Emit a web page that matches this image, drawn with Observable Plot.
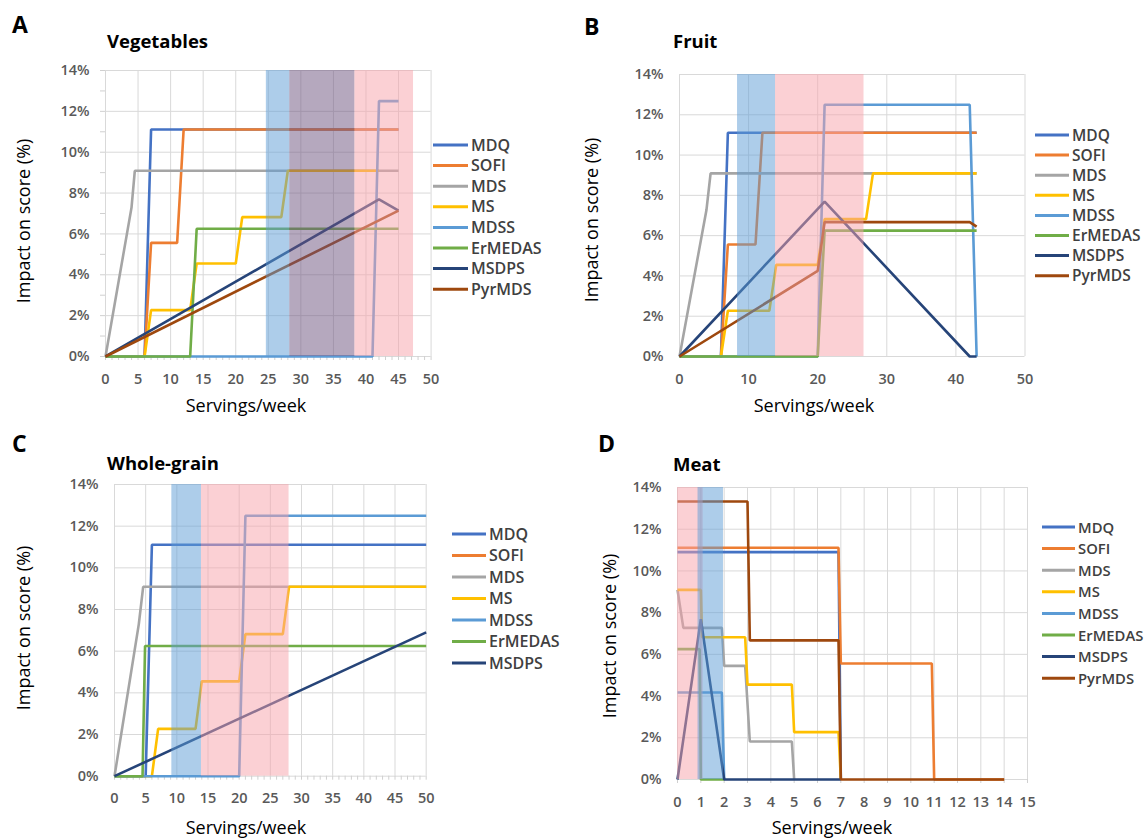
<!DOCTYPE html>
<html><head><meta charset="utf-8">
<script src="https://cdn.jsdelivr.net/npm/d3@7"></script>
<script src="https://cdn.jsdelivr.net/npm/@observablehq/plot@0.6"></script>
<style>
body{margin:0;background:#fff;}
#page{position:relative;width:1147px;height:839px;overflow:hidden;font-family:"Open Sans",sans-serif;}
#page > svg, #page > figure{position:absolute;margin:0;}
</style></head><body><div id="page"></div>
<script>
// ---------- series definitions ----------
const seriesNames  = ["MDQ","SOFI","MDS","MS","MDSS","ErMEDAS","MSDPS","PyrMDS"];
const seriesColors = ["#4472C4","#ED7D31","#A5A5A5","#FFC000","#5B9BD5","#70AD47","#264478","#9E480E"];

// ---------- A: Vegetables ([servings/week, impact %]) ----------
const vegMDQ     = [[0,0],[6,0],[7,11.11],[45,11.11]];
const vegSOFI    = [[0,0],[6,0],[7,5.56],[11,5.56],[12,11.11],[45,11.11]];
const vegMDS     = [[0,0],[4,7.3],[4.5,9.09],[45,9.09]];
const vegMS      = [[0,0],[6,0],[7,2.27],[13,2.27],[14,4.55],[20,4.55],[21,6.82],[27,6.82],[28,9.09],[42,9.09]];
const vegMDSS    = [[0,0],[41,0],[42,12.5],[45,12.5]];
const vegErMEDAS = [[0,0],[13,0],[14,6.25],[45,6.25]];
const vegMSDPS   = [[0,0],[42,7.69],[45,7.14]];
const vegPyrMDS  = [[0,0],[45,7.14]];
const vegBands   = [[24.7,28.3,"blue"],[28.3,38.3,"purple"],[38.3,47.3,"pink"]];

// ---------- B: Fruit ----------
const fruMDQ     = [[0,0],[6,0],[7,11.11],[43,11.11]];
const fruSOFI    = [[0,0],[6,0],[7,5.56],[11,5.56],[12,11.11],[43,11.11]];
const fruMDS     = [[0,0],[3.9,7.27],[4.5,9.09],[43,9.09]];
const fruMS      = [[0,0],[6,0],[7,2.27],[13,2.27],[14,4.55],[20,4.55],[21,6.82],[27,6.82],[28,9.09],[43,9.09]];
const fruMDSS    = [[0,0],[20,0],[21,12.5],[42,12.5],[43,0]];
const fruErMEDAS = [[0,0],[20,0],[21,6.25],[43,6.25]];
const fruMSDPS   = [[0,0],[21,7.69],[42,0],[43,0]];
const fruPyrMDS  = [[0,0],[20,4.25],[21,6.67],[42,6.67],[43,6.45]];
const fruBands   = [[8.4,13.9,"blue"],[13.9,26.7,"pink"]];

// ---------- C: Whole-grain ----------
const wgMDQ      = [[0,0],[5,0],[6,11.11],[50,11.11]];
const wgSOFI     = [];
const wgMDS      = [[0,0],[3.9,7.3],[4.6,9.09],[50,9.09]];
const wgMS       = [[0,0],[6,0],[7,2.27],[13,2.27],[14,4.55],[20,4.55],[21,6.82],[27,6.82],[28,9.09],[50,9.09]];
const wgMDSS     = [[0,0],[20,0],[21,12.5],[50,12.5]];
const wgErMEDAS  = [[0,0],[4.5,0],[4.9,6.25],[50,6.25]];
const wgMSDPS    = [[0,0],[50,6.9]];
const wgBands    = [[9.2,13.95,"blue"],[13.95,28,"pink"]];

// ---------- D: Meat ----------
const meatMDQ     = [[0,10.9],[6.9,10.9],[7,0]];
const meatSOFI    = [[0,11.11],[6.9,11.11],[7,5.56],[10.9,5.56],[11,0],[14,0]];
const meatMDS     = [[0,9.09],[0.25,7.27],[1.9,7.27],[2,5.45],[2.9,5.45],[3.1,1.82],[4.9,1.82],[5,0]];
const meatMS      = [[0,9.09],[1,9.09],[1.05,6.82],[2.9,6.82],[3,4.55],[4.9,4.55],[5,2.27],[6.9,2.27],[7,0]];
const meatMDSS    = [[0,4.17],[1.9,4.17],[2,0]];
const meatErMEDAS = [[0,6.25],[0.95,6.25],[1,0],[2,0]];
const meatMSDPS   = [[0,0],[1,7.69],[2,0],[7,0]];
const meatPyrMDS  = [[0,13.33],[3,13.33],[3.1,6.67],[6.9,6.67],[7,0],[14,0]];
const meatBands   = [[0,1.1,"pink"],[0.88,1.97,"blue"]];

const yTicks = [0,2,4,6,8,10,12,14];
const xTitle = "Servings/week";
const yTitle = "Impact on score (%)";

const bandFill = {blue:"#5B9BD5", pink:"#F7A1A9", purple:"#6B517D"};

const panels = [
  {letter:"A", title:"Vegetables", frame:[105,430.6,70,356], xMax:50,
   gridX:d3.range(0,51,5), minorX:d3.range(0,51,1), minorY:d3.range(0,15,1),
   series:[vegMDQ,vegSOFI,vegMDS,vegMS,vegMDSS,vegErMEDAS,vegMSDPS,vegPyrMDS], bands:vegBands,
   legendN:8, legend:{x1:433,x2:468,tx:471,y0:145,dy:20.6,fs:16},
   letterPos:[12,33], titlePos:[107,48], yTitlePos:[23,221], xTitlePos:[246,412]},
  {letter:"B", title:"Fruit", frame:[679.3,1024.8,74,356], xMax:50,
   gridX:d3.range(0,51,10), minorX:null, minorY:null,
   series:[fruMDQ,fruSOFI,fruMDS,fruMS,fruMDSS,fruErMEDAS,fruMSDPS,fruPyrMDS], bands:fruBands,
   legendN:8, legend:{x1:1035,x2:1069,tx:1072,y0:135,dy:20.1,fs:15.5},
   letterPos:[584,35], titlePos:[673,48], yTitlePos:[591,220], xTitlePos:[814,412]},
  {letter:"C", title:"Whole-grain", frame:[114.3,426,484,775.7], xMax:50,
   gridX:d3.range(0,51,5), minorX:d3.range(0,51,1), minorY:null,
   series:[wgMDQ,wgSOFI,wgMDS,wgMS,wgMDSS,wgErMEDAS,wgMSDPS], bands:wgBands,
   legendN:7, legend:{x1:452,x2:486,tx:489,y0:534,dy:21.5,fs:16},
   letterPos:[12,452], titlePos:[107,470], yTitlePos:[23,628], xTitlePos:[246,834]},
  {letter:"D", title:"Meat", frame:[676.7,1026.7,487.3,779.3], xMax:15,
   gridX:d3.range(0,16,1), minorX:d3.range(0,16,1), minorY:null,
   series:[meatMDQ,meatSOFI,meatMDS,meatMS,meatMDSS,meatErMEDAS,meatMSDPS,meatPyrMDS], bands:meatBands,
   legendN:8, legend:{x1:1042,x2:1075,tx:1078,y0:527,dy:21.6,fs:14.8},
   letterPos:[598,452], titlePos:[673,471], yTitlePos:[609,636], xTitlePos:[832,834]}
];

const page = document.getElementById("page");
const mL = 70, mR = 20, mT = 12, mB = 40;

for (const p of panels) {
  const [fl, fr, ft, fb] = p.frame;
  const W = fr - fl, H = fb - ft;
  const rows = [];
  p.series.forEach((pts, i) => pts.forEach(([x, y]) => rows.push({name: seriesNames[i], x, y})));
  const marks = [
    Plot.gridX({ticks: p.gridX, stroke: "#d9d9d9", strokeOpacity: 1}),
    Plot.gridY({ticks: yTicks, stroke: "#d9d9d9", strokeOpacity: 1}),
  ];
  if (p.minorX) marks.push(Plot.axisX({ticks: p.minorX, tickSize: 4, tickFormat: () => "", stroke: "#d0d0d0", label: null}));
  if (p.minorY) marks.push(Plot.axisY({ticks: p.minorY, tickSize: 5, tickFormat: () => "", stroke: "#d0d0d0", label: null}));
  marks.push(Plot.axisX({ticks: p.gridX, tickSize: 0, tickPadding: 17, label: null, fill: "#595959"}));
  marks.push(Plot.axisY({ticks: yTicks, tickSize: 0, tickPadding: 16, tickFormat: d => d + "%", label: null, fill: "#595959"}));
  marks.push(Plot.line(rows, {x: "x", y: "y", z: "name", stroke: "name", strokeWidth: 2.6, strokeLinejoin: "miter", strokeLinecap: "butt"}));
  for (const b of p.bands) {
    marks.push(Plot.rect([b], {x1: d => d[0], x2: d => d[1], y1: () => 0, y2: () => 14, fill: bandFill[b[2]], fillOpacity: 0.5}));
  }
  const svg = Plot.plot({
    width: W + mL + mR, height: H + mT + mB,
    marginLeft: mL, marginRight: mR, marginTop: mT, marginBottom: mB,
    x: {domain: [0, p.xMax]},
    y: {domain: [0, 14]},
    color: {domain: seriesNames, range: seriesColors},
    style: {fontFamily: "'Open Sans', sans-serif", fontSize: "14.5px", fontWeight: 600, color: "#595959", background: "transparent", overflow: "visible"},
    marks
  });
  svg.style.left = (fl - mL) + "px";
  svg.style.top = (ft - mT) + "px";
  page.appendChild(svg);
}

// annotations: letters, titles, axis titles, legends
const anno = d3.select(page).append("svg")
  .attr("width", 1147).attr("height", 839)
  .style("left", "0px").style("top", "0px").style("position", "absolute")
  .style("font-family", "'Open Sans', sans-serif");

for (const p of panels) {
  anno.append("text").attr("x", p.letterPos[0]).attr("y", p.letterPos[1])
    .attr("font-size", 23).attr("font-weight", 700).attr("fill", "#000").text(p.letter);
  anno.append("text").attr("x", p.titlePos[0]).attr("y", p.titlePos[1])
    .attr("font-size", 18.5).attr("font-weight", 700).attr("fill", "#000").text(p.title);
  anno.append("text").attr("x", p.xTitlePos[0]).attr("y", p.xTitlePos[1])
    .attr("text-anchor", "middle").attr("font-size", 18).attr("fill", "#000").text(xTitle);
  anno.append("text").attr("transform", `translate(${p.yTitlePos[0]},${p.yTitlePos[1]}) rotate(-90)`)
    .attr("text-anchor", "middle").attr("dominant-baseline", "central")
    .attr("font-size", 18).attr("fill", "#000").text(yTitle);
  const L = p.legend;
  seriesNames.slice(0, p.legendN).forEach((n, i) => {
    const yc = L.y0 + i * L.dy;
    anno.append("line").attr("x1", L.x1).attr("x2", L.x2).attr("y1", yc).attr("y2", yc)
      .attr("stroke", seriesColors[i]).attr("stroke-width", 3);
    anno.append("text").attr("x", L.tx).attr("y", yc + 5.6)
      .attr("font-size", L.fs).attr("font-weight", 600).attr("fill", "#404040").text(n);
  });
}
</script></body></html>
